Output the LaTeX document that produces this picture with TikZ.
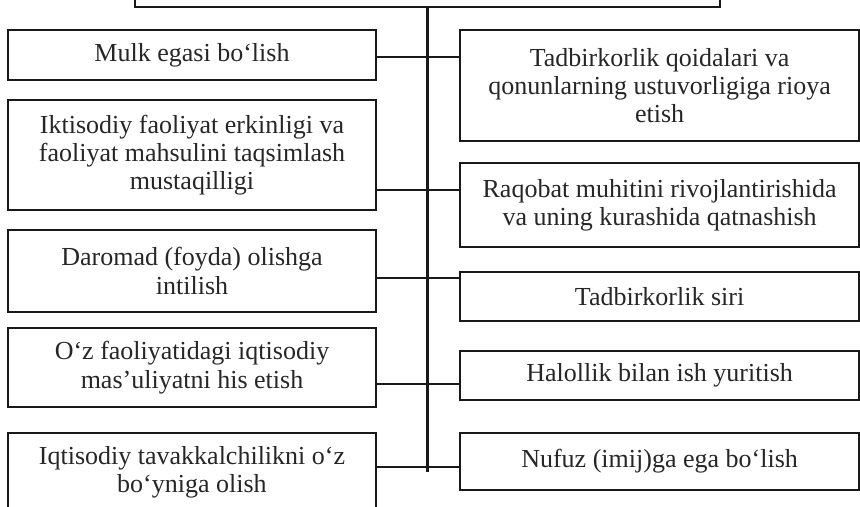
\documentclass[tikz,border=0pt]{standalone}
\usepackage{fontspec}
\setmainfont{Liberation Serif}
\usepackage{tikz}

\begin{document}
\begin{tikzpicture}[every node/.style={rectangle, draw=black!90, line width=1.2pt, align=center, inner sep=0pt, text=black!85, font=\fontsize{18.5}{20}\selectfont},
    lbox/.style={minimum width=9.2cm},
    rbox/.style={minimum width=9.975cm},
    line width=1.2pt, draw=black!90]

        \useasboundingbox (0,0) rectangle (21.5,-12.675);
        \clip (0,0) rectangle (21.5,-12.675); %il riquadro in alto e quello in basso sono tagliati

        % Posizioni dei nodi
        \node[minimum width=14.625cm, minimum height=2cm, anchor=south] (bosh) at (10.6875,-0.2) {};

        \node[lbox, minimum height=1.25cm] (mulk) at (4.8,-1.375) {Mulk egasi bo‘lish};
        \node[lbox, minimum height=2.75cm] (erkin) at (4.8,-3.875) {Iktisodiy faoliyat erkinligi va\\faoliyat mahsulini taqsimlash\\mustaqilligi};
        \node[lbox, minimum height=2.05cm] (daromad) at (4.8,-6.775) {Daromad (foyda) olishga\\intilish};
        \node[lbox, minimum height=1.975cm] (masul) at (4.8,-9.19) {O‘z faoliyatidagi iqtisodiy\\mas’uliyatni his etish};
        \node[lbox, minimum height=1.95cm] (tavakkal) at (4.8,-11.8) {Iqtisodiy tavakkalchilikni o‘z\\bo‘yniga olish};

        \node[rbox, minimum height=2.775cm] (qoida) at (16.49,-2.1375) {Tadbirkorlik qoidalari va\\qonunlarning ustuvorligiga rioya\\etish};
        \node[rbox, minimum height=2.1cm] (raqobat) at (16.49,-5.125) {Raqobat muhitini rivojlantirishida\\va uning kurashida qatnashish};
        \node[rbox, minimum height=1.225cm] (sir) at (16.49,-7.4125) {Tadbirkorlik siri};
        \node[rbox, minimum height=1.225cm] (halol) at (16.49,-9.3875) {Halollik bilan ish yuritish};
        \node[rbox, minimum height=1.425cm] (nufuz) at (16.49,-11.5375) {Nufuz (imij)ga ega bo‘lish};

        \coordinate (s1) at (10.6875,-1.425);
        \coordinate (s2) at (10.6875,-4.75);
        \coordinate (s3) at (10.6875,-6.95);
        \coordinate (s4) at (10.6875,-9.6);
        \coordinate (s5) at (10.6875,-11.675);
        \coordinate (oxir) at (10.6875,-11.8);

        % Archi
        \draw[line width=1.6pt] (bosh.south) -- (oxir);
        \draw (mulk.east |- s1) -- (s1) -- (qoida.west |- s1);
        \draw (erkin.east |- s2) -- (s2) -- (raqobat.west |- s2);
        \draw (daromad.east |- s3) -- (s3) -- (sir.west |- s3);
        \draw (masul.east |- s4) -- (s4) -- (halol.west |- s4);
        \draw (tavakkal.east |- s5) -- (s5) -- (nufuz.west |- s5);
\end{tikzpicture}
\end{document}
